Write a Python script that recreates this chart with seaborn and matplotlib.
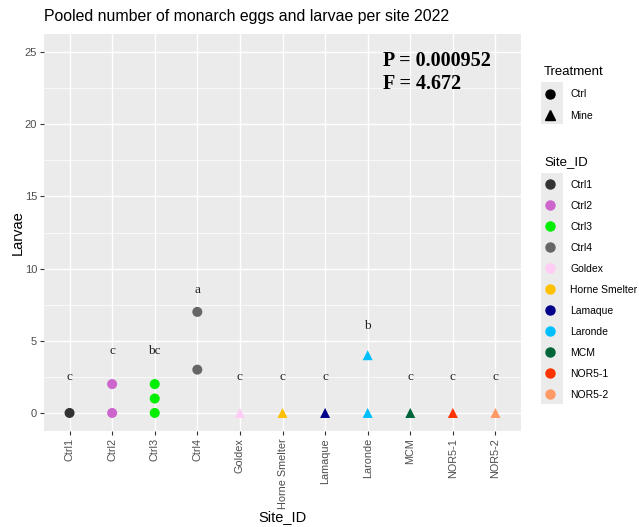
import matplotlib
matplotlib.use("Agg")
import matplotlib.pyplot as plt
import seaborn as sns
import pandas as pd
from matplotlib.lines import Line2D
from matplotlib.patches import Rectangle
from matplotlib.ticker import MultipleLocator

plt.rcParams["font.family"] = ["Liberation Sans", "DejaVu Sans"]

sites = ["Ctrl1", "Ctrl2", "Ctrl3", "Ctrl4", "Goldex", "Horne Smelter", "Lamaque",
         "Laronde", "MCM", "NOR5-1", "NOR5-2"]
treatment_of_site = ["Ctrl", "Ctrl", "Ctrl", "Ctrl", "Mine", "Mine", "Mine",
                     "Mine", "Mine", "Mine", "Mine"]
site_colors = ["#333333", "#CC66CC", "#00EE00", "#666666", "#FFCCF5", "#FFC000",
               "#00008B", "#00BFFF", "#00663A", "#FF3300", "#FF9966"]
# observations (site, larvae)
obs_site = ["Ctrl1", "Ctrl2", "Ctrl2", "Ctrl3", "Ctrl3", "Ctrl3", "Ctrl4", "Ctrl4",
            "Goldex", "Horne Smelter", "Lamaque", "Laronde", "Laronde", "MCM",
            "NOR5-1", "NOR5-2"]
obs_larvae = [0, 0, 2, 0, 1, 2, 3, 7, 0, 0, 0, 0, 4, 0, 0, 0]
letters = ["c", "c", "bc", "a", "c", "c", "c", "b", "c", "c", "c"]
letter_y = [2.5, 4.3, 4.3, 8.5, 2.5, 2.5, 2.5, 6.0, 2.5, 2.5, 2.5]

tmap = dict(zip(sites, treatment_of_site))
df = pd.DataFrame({"Site_ID": obs_site, "Larvae": obs_larvae})
df["Treatment"] = df["Site_ID"].map(tmap)
df["x"] = df["Site_ID"].map({s: i for i, s in enumerate(sites)})

W, H = 639, 527
fig = plt.figure(figsize=(W / 100, H / 100), dpi=100)
ax = fig.add_axes([44 / W, 1 - 431 / H, (521 - 44) / W, (431 - 34) / H])
ax.set_facecolor("#EBEBEB")
for sp in ax.spines.values():
    sp.set_visible(False)

palette = dict(zip(sites, site_colors))
sns.scatterplot(data=df, x="x", y="Larvae", hue="Site_ID", style="Treatment",
                palette=palette, markers={"Ctrl": "o", "Mine": "^"},
                s=52, edgecolor="none", legend=False, ax=ax, zorder=3)

for i, (lab, yy) in enumerate(zip(letters, letter_y)):
    ax.text(i, yy, lab, ha="center", va="center", fontsize=9.5,
            family="Liberation Serif", color="#222222", zorder=4)

ax.text(7.35, 24.4, "P = 0.000952", ha="left", va="center", fontsize=14.5,
        fontweight="bold", family="Liberation Serif", color="black")
ax.text(7.35, 22.8, "F = 4.672", ha="left", va="center", fontsize=14.5,
        fontweight="bold", family="Liberation Serif", color="black")

ax.set_xlim(-0.6, 10.6)
ax.set_ylim(-1.25, 26.25)
ax.set_xticks(range(len(sites)))
ax.set_xticklabels(sites, rotation=90, fontsize=7.8, color="#4D4D4D")
ax.yaxis.set_major_locator(MultipleLocator(5))
ax.yaxis.set_minor_locator(MultipleLocator(2.5))
ax.tick_params(axis="y", which="major", labelsize=8, labelcolor="#4D4D4D",
               color="#333333", length=3, pad=2)
ax.tick_params(axis="y", which="minor", length=0)
ax.tick_params(axis="x", color="#333333", length=3, pad=2)
ax.grid(which="major", color="white", linewidth=1.0, zorder=0)
ax.grid(which="minor", axis="y", color="white", linewidth=0.5, zorder=0)
ax.set_axisbelow(True)
ax.set_xlabel("Site_ID", fontsize=10.5, color="black", labelpad=1)
ax.set_ylabel("Larvae", fontsize=10.5, color="black", labelpad=0)

fig.text(44 / W, 1 - 17 / H, "Pooled number of monarch eggs and larvae per site 2022",
         fontsize=11.4, ha="left", va="center")

# legend key backgrounds
fig.patches.append(Rectangle((541 / W, 1 - 124 / H), 22 / W, 42 / H,
                             transform=fig.transFigure, facecolor="#EBEBEB",
                             edgecolor="none", zorder=0))
fig.patches.append(Rectangle((541 / W, 1 - 404 / H), 22 / W, 231 / H,
                             transform=fig.transFigure, facecolor="#EBEBEB",
                             edgecolor="none", zorder=0))

th = [Line2D([], [], marker="o", linestyle="none", color="black", markersize=6.5),
      Line2D([], [], marker="^", linestyle="none", color="black", markersize=6.5)]
leg1 = fig.legend(th, ["Ctrl", "Mine"], title="Treatment", loc="upper left",
                  bbox_to_anchor=(0.845, 0.883), frameon=False, fontsize=7.5,
                  title_fontsize=9.5, alignment="left", handlelength=1.2,
                  handletextpad=1.3, labelspacing=1.1, borderaxespad=0)
sh = [Line2D([], [], marker="o", linestyle="none", color=c, markersize=6.5)
      for c in site_colors]
leg2 = fig.legend(sh, sites, title="Site_ID", loc="upper left",
                  bbox_to_anchor=(0.845, 0.711), frameon=False, fontsize=7.5,
                  title_fontsize=9.5, alignment="left", handlelength=1.2,
                  handletextpad=1.3, labelspacing=1.06, borderaxespad=0)

fig.savefig("out.png", dpi=100)
